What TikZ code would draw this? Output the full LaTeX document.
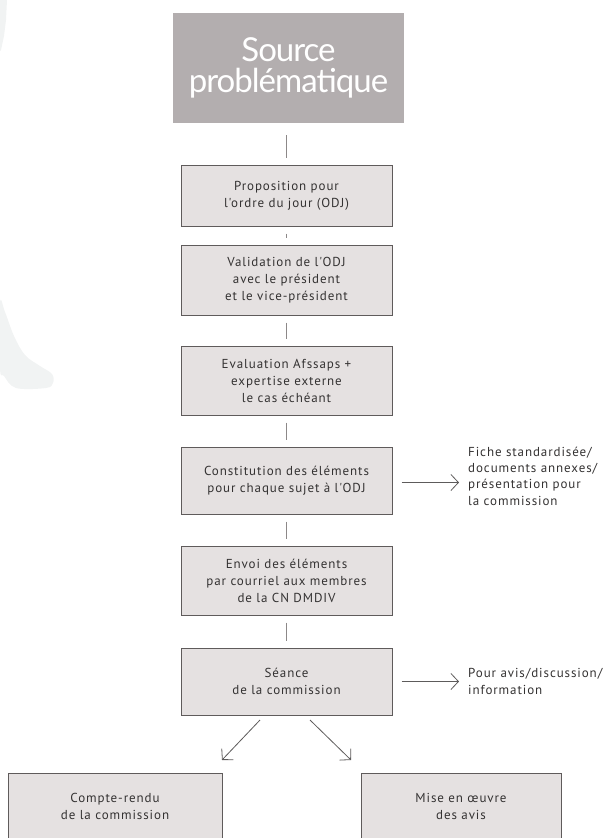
\documentclass[tikz,border=0pt]{standalone}
\usepackage{fontspec}
\usetikzlibrary{arrows.meta}
\newfontfamily\boxfont{PT Sans}[LetterSpace=7]
\newfontfamily\srcfont{Lato}[LetterSpace=-3]
\definecolor{srcfill}{HTML}{B3AEAF}
\definecolor{stepfill}{HTML}{E5E1E1}
\definecolor{stepdraw}{HTML}{5F5B5B}
\definecolor{linkgray}{HTML}{8C8888}
\definecolor{txtgray}{HTML}{343232}
\definecolor{ghost}{HTML}{F1F3F3}
\tikzset{
  stepbox/.style={draw=stepdraw, line width=1pt, fill=stepfill, inner sep=0pt,
    text=txtgray, align=center,
    font=\boxfont\fontsize{13}{17}\selectfont},
  srcbox/.style={fill=srcfill, inner sep=0pt, text=white, align=center,
    font=\srcfont\fontsize{33}{33}\selectfont},
  link/.style={draw=linkgray, line width=1pt},
  flow/.style={draw=txtgray!80, line width=0.8pt,
    -{Straight Barb[length=7.5pt, width=16pt, line width=0.8pt]}},
  note/.style={anchor=west, align=left, inner sep=0pt, text=txtgray,
    font=\boxfont\fontsize{13}{16.3}\selectfont},
}
\begin{document}
\begin{tikzpicture}[x=1pt, y=-1pt]
\useasboundingbox (0,0) rectangle (608,838);
% faint silhouette on the left edge
\fill[ghost] (0,0) -- (7,0) -- (6,20) -- (4,36) -- (1,50) -- (0,51) -- cycle;
\fill[ghost] plot[smooth cycle, tension=0.6] coordinates
  {(0,303) (5,312) (14,336) (25,355) (40,366) (52,374) (53,383) (46,388) (16,388) (4,376) (0,368)};

% main column of steps
\node[srcbox, minimum width=231pt, minimum height=110pt] (src) at (288.5,68)
  {Source\\[-2pt]probl\'ematique};
\node[stepbox, minimum width=211pt, minimum height=61pt] (prop) at (286.5,195.5)
  {Proposition pour\\l'ordre du jour (ODJ)};
\node[stepbox, minimum width=211pt, minimum height=70pt] (valid) at (286.5,280)
  {Validation de l'ODJ\\avec le pr\'esident\\et le vice-pr\'esident};
\node[stepbox, minimum width=211pt, minimum height=69pt] (eval) at (286.5,380.5)
  {Evaluation Afssaps +\\expertise externe\\le cas \'ech\'eant};
\node[stepbox, minimum width=211pt, minimum height=67pt] (const) at (286.5,480.5)
  {Constitution des \'el\'ements\\pour chaque sujet \`a l'ODJ};
\node[stepbox, minimum width=211pt, minimum height=69pt] (envoi) at (286.5,580.5)
  {Envoi des \'el\'ements\\par courriel aux membres\\de la CN DMDIV};
\node[stepbox, minimum width=211pt, minimum height=67pt] (seance) at (286.5,681.5)
  {S\'eance\\de la commission};
\node[stepbox, minimum width=214pt, minimum height=67pt] (cr) at (115,806.5)
  {Compte-rendu\\de la commission};
\node[stepbox, minimum width=200pt, minimum height=67pt] (mise) at (461,806.5)
  {Mise en \oe uvre\\des avis};

% side notes
\node[note] (fiche) at (468,476)
  {Fiche standardis\'ee/\\documents annexes/\\pr\'esentation pour\\la commission};
\node[note] (avis) at (468,681.5)
  {Pour avis/discussion/\\information};

% vertical links
\draw[link] ([yshift=-12pt]src.south -| prop.north) -- ([yshift=7pt]prop.north);
\draw[link] ([yshift=-7pt]prop.south) -- ([yshift=7pt]valid.north);
\draw[link] ([yshift=-7pt]valid.south) -- ([yshift=7pt]eval.north);
\draw[link] ([yshift=-7pt]eval.south) -- ([yshift=7pt]const.north);
\draw[link] ([yshift=-7pt]const.south) -- ([yshift=7pt]envoi.north);
\draw[link] ([yshift=-7pt]envoi.south) -- ([yshift=7pt]seance.north);

% arrows to the notes
\draw[flow] ([xshift=9pt,yshift=-2pt]const.east) -- ([xshift=-9pt,yshift=-2pt]fiche.west |- const.east);
\draw[flow] ([xshift=9pt]seance.east) -- ([xshift=-9pt]avis.west |- seance.east);

% outcomes of the session
\coordinate (lfrom) at (260,720);
\coordinate (rfrom) at (310,720);
\draw[flow] (lfrom) -- (222,760);
\draw[flow] (rfrom) -- (351,760);
\end{tikzpicture}
\end{document}
